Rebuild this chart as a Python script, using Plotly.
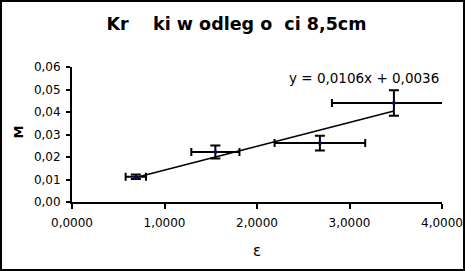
import plotly.graph_objects as go

# data
eps = [0.69, 1.55, 2.68, 3.48]
M = [0.0112, 0.0222, 0.0262, 0.0440]
eps_err = [0.11, 0.26, 0.49, 0.67]
M_err = [0.0010, 0.0029, 0.0033, 0.0057]
slope, intercept = 0.0106, 0.0036
x_ticks = [0, 1, 2, 3, 4]
y_ticks = [0, 0.01, 0.02, 0.03, 0.04, 0.05, 0.06]

W, H = 465, 271
L, R, T, B = 72, 23, 67, 69
pw, ph = W - L - R, H - T - B

def px(x):
    return (x - L) / pw

def py(y):
    return (H - B - y) / ph

fig = go.Figure()
tx = [min(eps), max(eps)]
fig.add_trace(go.Scatter(x=tx, y=[slope * v + intercept for v in tx], mode="lines",
                         line=dict(color="black", width=1.5), showlegend=False, hoverinfo="skip"))
fig.add_trace(go.Scatter(
    x=eps, y=M, mode="markers",
    marker=dict(color="#000080", size=3, symbol="square"),
    error_x=dict(type="data", array=eps_err, color="black", thickness=2, width=4),
    error_y=dict(type="data", array=M_err, color="black", thickness=2, width=5),
    showlegend=False))

font = "DejaVu Sans, sans-serif"
fig.update_layout(
    template="none",
    width=W, height=H, margin=dict(l=L, r=R, t=T, b=B, autoexpand=False),
    paper_bgcolor="white", plot_bgcolor="white", separators=", ",
    font=dict(family=font, color="black", size=12),
    title=dict(text="<b>Kr\u00a0\u00a0\u00a0\u00a0ki w odleg\u00a0o\u00a0\u00a0ci 8,5cm</b>", x=236.5 / W, xanchor="center",
               y=1 - 24 / H, yanchor="middle", font=dict(size=17.5, family=font)),
    xaxis=dict(range=[0, 4], tickvals=x_ticks, tickformat=".4f", showgrid=False, zeroline=False,
               automargin=False,
               showline=True, linecolor="black", linewidth=2, ticks="outside", ticklen=5,
               tickwidth=2, tickcolor="black", tickfont=dict(size=12), ticklabelstandoff=4),
    yaxis=dict(range=[0, 0.06], tickvals=y_ticks, tickformat=".2f", showgrid=False, zeroline=False,
               automargin=False,
               showline=True, linecolor="black", linewidth=2, ticks="outside", ticklen=4,
               tickwidth=2, tickcolor="black", tickfont=dict(size=12), ticklabelstandoff=3),
    annotations=[
        dict(text="y = 0,0106x + 0,0036", xref="paper", yref="paper",
             x=px(363.5), y=py(78), xanchor="center", yanchor="middle",
             showarrow=False, font=dict(size=13.5, family=font)),
        dict(text="<b>M</b>", xref="paper", yref="paper", x=px(17.5), y=py(132),
             xanchor="center", yanchor="middle", textangle=-90, showarrow=False,
             font=dict(size=13, family=font)),
        dict(text="ε", xref="paper", yref="paper", x=px(257), y=py(251),
             xanchor="center", yanchor="middle", showarrow=False,
             font=dict(size=15, family=font)),
    ],
    shapes=[dict(type="rect", xref="paper", yref="paper",
                 x0=px(1), x1=px(W - 1), y0=py(H - 1), y1=py(1),
                 line=dict(color="black", width=2), layer="above")],
)
fig.write_html("out.html")
